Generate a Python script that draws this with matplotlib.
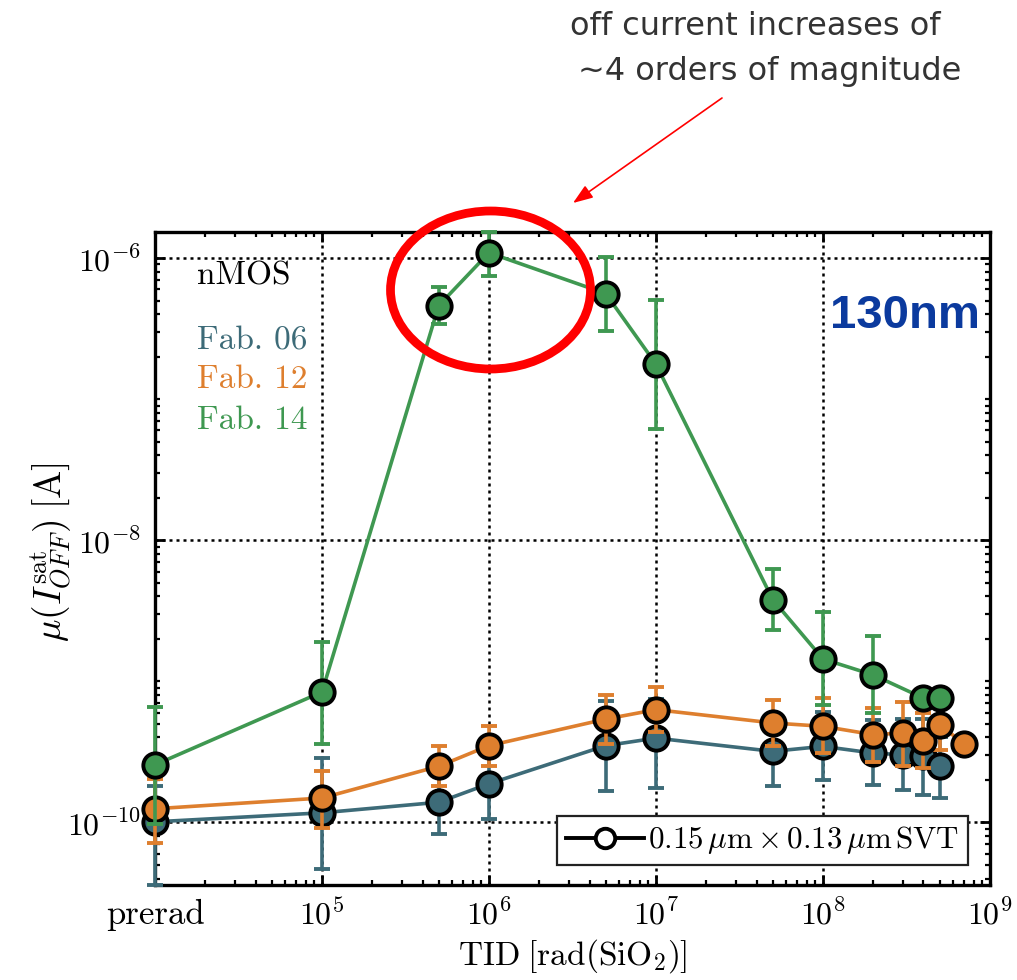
import matplotlib
matplotlib.use('Agg')
import matplotlib.pyplot as plt
from matplotlib.lines import Line2D
from matplotlib.patches import Ellipse
from matplotlib.ticker import FixedLocator, LogLocator, NullFormatter
import numpy as np

plt.rcParams['font.family'] = 'cmr10'
plt.rcParams['mathtext.fontset'] = 'cm'
plt.rcParams['axes.formatter.use_mathtext'] = True

# prerad is drawn at 1e4 rad
PRERAD = 1e4

# Fab. 06
tid_06 = [PRERAD, 1e5, 5e5, 1e6, 5e6, 1e7, 5e7, 1e8, 2e8, 3e8, 4e8, 5e8]
ioff_06 = [1.01e-10, 1.17e-10, 1.39e-10, 1.88e-10, 3.5e-10, 3.96e-10, 3.19e-10, 3.46e-10, 3.1e-10, 3.02e-10, 2.94e-10, 2.52e-10]
lo_06 = [3.6e-11, 4.7e-11, 8.3e-11, 1.06e-10, 1.66e-10, 1.75e-10, 1.8e-10, 1.99e-10, 1.83e-10, 1.69e-10, 1.56e-10, 1.48e-10]
hi_06 = [1.8e-10, 2.86e-10, 2.3e-10, 3.4e-10, 7.3e-10, 7.5e-10, 5.5e-10, 6.1e-10, 5.35e-10, 5.43e-10, 5.43e-10, 4.0e-10]

# Fab. 12
tid_12 = [PRERAD, 1e5, 5e5, 1e6, 5e6, 1e7, 5e7, 1e8, 2e8, 3e8, 4e8, 5e8, 7e8]
ioff_12 = [1.25e-10, 1.49e-10, 2.5e-10, 3.5e-10, 5.4e-10, 6.3e-10, 5.07e-10, 4.8e-10, 4.19e-10, 4.3e-10, 3.75e-10, 4.93e-10, 3.6e-10]
lo_12 = [7.2e-11, 9.2e-11, 1.8e-10, 2.5e-10, 3.6e-10, 4.35e-10, 3.46e-10, 3.1e-10, 2.67e-10, 2.52e-10, 2.45e-10, 3.25e-10, 3.6e-10]
hi_12 = [2.03e-10, 2.33e-10, 3.46e-10, 4.8e-10, 8.0e-10, 9.05e-10, 7.4e-10, 7.6e-10, 6.5e-10, 7.1e-10, 6.0e-10, 6.8e-10, 3.6e-10]

# Fab. 14
tid_14 = [PRERAD, 1e5, 5e5, 1e6, 5e6, 1e7, 5e7, 1e8, 2e8, 4e8, 5e8]
ioff_14 = [2.56e-10, 8.4e-10, 4.6e-7, 1.09e-6, 5.6e-7, 1.77e-7, 3.8e-9, 1.44e-9, 1.11e-9, 7.6e-10, 7.6e-10]
lo_14 = [9.8e-11, 3.6e-10, 3.4e-7, 7.5e-7, 3.05e-7, 6.15e-8, 2.3e-9, 6.75e-10, 6.0e-10, 7.0e-10, 7.0e-10]
hi_14 = [6.6e-10, 1.9e-9, 6.2e-7, 1.53e-6, 1.02e-6, 5.05e-7, 6.3e-9, 3.1e-9, 2.1e-9, 8.2e-10, 8.2e-10]

fab_names = ['Fab. 06', 'Fab. 12', 'Fab. 14']
fab_colors = ['#3d6b78', '#de7f2e', '#3f9851']

x_ticks = [PRERAD, 1e5, 1e6, 1e7, 1e8, 1e9]
x_ticklabels = ['prerad', r'$10^{5}$', r'$10^{6}$', r'$10^{7}$', r'$10^{8}$', r'$10^{9}$']
y_ticks = [1e-10, 1e-8, 1e-6]
y_ticklabels = [r'$10^{-10}$', r'$10^{-8}$', r'$10^{-6}$']

fig = plt.figure(figsize=(10.17, 9.8), dpi=100)
ax = fig.add_axes([0.1524, 0.0969, 0.821, 0.6664])
ax.set_xscale('log')
ax.set_yscale('log')

series = [
    (tid_06, ioff_06, lo_06, hi_06),
    (tid_12, ioff_12, lo_12, hi_12),
    (tid_14, ioff_14, lo_14, hi_14),
]
for i, (x, y, lo, hi) in enumerate(series):
    y = np.array(y)
    yerr = [y - np.array(lo), np.array(hi) - y]
    ax.errorbar(x, y, yerr=yerr, fmt='-o', color=fab_colors[i], lw=2.6,
                ms=17.5, mfc=fab_colors[i], mec='k', mew=2.8,
                elinewidth=2.6, capsize=5.6, capthick=2.4,
                zorder=3 + i, clip_on=False)

ax.set_xlim(1e4, 1e9)
ax.set_ylim(3.6e-11, 1.53e-6)

ax.xaxis.set_major_locator(FixedLocator(x_ticks))
ax.set_xticklabels(x_ticklabels)
ax.xaxis.set_minor_locator(LogLocator(base=10, subs=np.arange(2, 10), numticks=20))
ax.xaxis.set_minor_formatter(NullFormatter())
ax.yaxis.set_major_locator(FixedLocator(y_ticks))
ax.set_yticklabels(y_ticklabels)
ax.yaxis.set_minor_locator(LogLocator(base=10, subs=np.arange(1, 10), numticks=20))
ax.yaxis.set_minor_formatter(NullFormatter())

ax.tick_params(which='both', direction='in', top=True, right=True)
ax.tick_params(which='major', length=7.5, width=2.0, labelsize=23, pad=10)
ax.tick_params(which='minor', length=3.8, width=1.6)
ax.get_xticklabels()[0].set_fontsize(25)
for sp in ax.spines.values():
    sp.set_linewidth(2.4)

ax.grid(True, which='major', ls=(0, (1.2, 1.6)), color='k', lw=1.8)

ax.set_xlabel(r'$\mathrm{TID}\;[\mathrm{rad(SiO_2)}]$', fontsize=24, labelpad=4)
ax.set_ylabel(r'$\mu(I_{OFF}^{\rm sat})\;[\mathrm{A}]$', fontsize=27)
ax.yaxis.set_label_coords(-0.097, 0.51)

ax.text(0.0503, 0.9188, 'nMOS', fontsize=24, transform=ax.transAxes, va='baseline')
for name, color, ypos in zip(fab_names, fab_colors, [0.8193, 0.7611, 0.6983]):
    ax.text(0.0503, ypos, name, fontsize=24, color=color,
            transform=ax.transAxes, va='baseline')

ax.text(0.988, 0.853, '130nm', fontsize=34, fontweight='bold', color='#0b3a9e',
        family='Liberation Sans', transform=ax.transAxes, ha='right', va='baseline')

handle = Line2D([], [], color='k', lw=2.8, marker='o', ms=14, mfc='white',
                mec='k', mew=2.8)
leg = ax.legend([handle], [r'$0.15\,\mu\mathrm{m}\times0.13\,\mu\mathrm{m}\,\mathrm{SVT}$'],
                loc='lower right', bbox_to_anchor=(0.9737, 0.0306),
                borderaxespad=0, fontsize=22.3, handlelength=2.5,
                handletextpad=0.15, borderpad=0.28, fancybox=False,
                framealpha=1, edgecolor='#222222')
leg.get_frame().set_linewidth(1.6)
leg.set_zorder(10)

# callout: circle round the peak and the arrow from the note
fig.add_artist(Ellipse((490.5 / 1017, 1 - 290 / 980), width=200 / 1017,
                       height=158 / 980, transform=fig.transFigure,
                       fill=False, ec='#ff0000', lw=6.3, zorder=20))
ax.annotate('', xy=(573, 980 - 203), xytext=(722, 980 - 98),
            xycoords='figure pixels', textcoords='figure pixels',
            arrowprops=dict(arrowstyle='-|>,head_length=0.6,head_width=0.22',
                            color='#ff0000', lw=1.2, mutation_scale=20,
                            shrinkA=0, shrinkB=0))
fig.text(570 / 1017, 1 - 35 / 980, 'off current increases of', fontsize=23,
         color='#333333', family='DejaVu Sans', va='baseline')
fig.text(578 / 1017, 1 - 80 / 980, '~4 orders of magnitude', fontsize=23,
         color='#333333', family='DejaVu Sans', va='baseline')

fig.savefig('out.png', dpi=100)
